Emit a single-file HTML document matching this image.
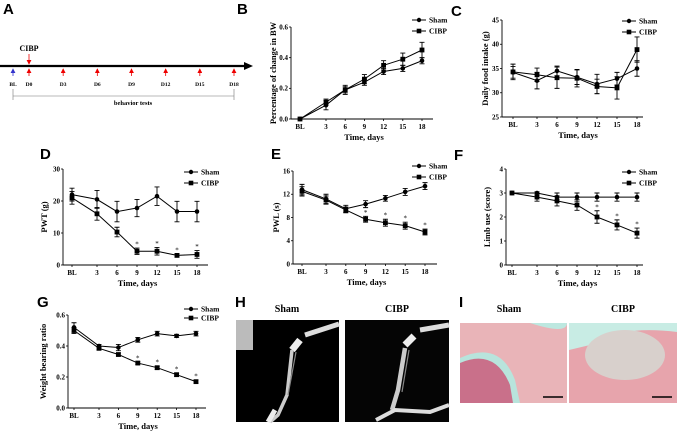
<!DOCTYPE html>
<html><head><meta charset="utf-8">
<style>
html,body{margin:0;padding:0;background:#fff;}
svg{display:block;font-family:"Liberation Serif",serif;}
.lt{font-family:"Liberation Sans",sans-serif;font-weight:bold;font-size:15px;}
.tk{font-size:7px;font-weight:bold;}
.at{font-size:8.5px;font-weight:bold;}
.lg{font-size:7.5px;font-weight:bold;}
</style></head>
<body>
<svg id="fig" width="677" height="433" viewBox="0 0 677 433" xmlns="http://www.w3.org/2000/svg">
<defs>
<marker id="ah" markerWidth="6" markerHeight="6" refX="5" refY="3" orient="auto"><path d="M0,0 L6,3 L0,6 z" fill="#e00"/></marker>
<marker id="ahb" markerWidth="6" markerHeight="6" refX="5" refY="3" orient="auto"><path d="M0,0 L6,3 L0,6 z" fill="#33c"/></marker>
</defs>
<text class="lt" x="3" y="14">A</text>
<text class="lt" x="237" y="14">B</text>
<text class="lt" x="451" y="16">C</text>
<text class="lt" x="40" y="159">D</text>
<text class="lt" x="271" y="159">E</text>
<text class="lt" x="454" y="160">F</text>
<text class="lt" x="37" y="307">G</text>
<text class="lt" x="235" y="307">H</text>
<text class="lt" x="459" y="307">I</text>

<g>
<line x1="0" y1="66" x2="246" y2="66" stroke="#000" stroke-width="2.2"/>
<path d="M244,62 L253,66 L244,70 z" fill="#000"/>
<text x="29" y="51" text-anchor="middle" style="font-size:8px;font-weight:bold">CIBP</text>
<line x1="29" y1="54" x2="29" y2="64" stroke="#e00" stroke-width="0.8" marker-end="url(#ah)"/>
<line x1="13" y1="76" x2="13" y2="69" stroke="#33c" stroke-width="0.8" marker-end="url(#ahb)"/>
<text x="13" y="86" text-anchor="middle" style="font-size:5.5px;font-weight:bold">BL</text>
<g id="tlArrows"></g>
<line x1="13" y1="96" x2="234" y2="96" stroke="#777" stroke-width="0.6"/>
<line x1="13" y1="89" x2="13" y2="100" stroke="#777" stroke-width="0.6"/>
<line x1="234" y1="89" x2="234" y2="100" stroke="#777" stroke-width="0.6"/>
<text x="133" y="105" text-anchor="middle" style="font-size:6.5px;font-weight:bold">behavior tests</text>
</g>

<g id="charts"></g>

<text x="287" y="312" text-anchor="middle" style="font-size:10px;font-weight:bold">Sham</text>
<text x="397" y="312" text-anchor="middle" style="font-size:10px;font-weight:bold">CIBP</text>
<g>
<rect x="236" y="320" width="103" height="102" fill="#000"/>
<rect x="236" y="320" width="17" height="30" fill="#bbb"/>
<path d="M305,335 L339,324" stroke="#ddd" stroke-width="5" fill="none"/>
<path d="M300,340 L292,350" stroke="#eee" stroke-width="7" fill="none"/>
<path d="M292,350 L287,395 L278,415 L270,422" stroke="#ccc" stroke-width="3.5" fill="none"/>
<path d="M296,352 L288,395" stroke="#888" stroke-width="1.2" fill="none"/>
<path d="M275,410 L268,422" stroke="#eee" stroke-width="5" fill="none"/>
</g>
<g>
<rect x="345" y="320" width="104" height="102" fill="#050505"/>
<path d="M420,330 L449,325" stroke="#ddd" stroke-width="5" fill="none"/>
<path d="M414,336 L405,345" stroke="#eee" stroke-width="7" fill="none"/>
<path d="M405,348 L398,390 L392,410" stroke="#ccc" stroke-width="4.5" fill="none"/>
<path d="M409,350 L402,392" stroke="#888" stroke-width="1.2" fill="none"/>
<path d="M376,420 L395,410 L430,412 L449,405" stroke="#ddd" stroke-width="4" fill="none"/>
</g>

<text x="509" y="312" text-anchor="middle" style="font-size:10px;font-weight:bold">Sham</text>
<text x="623" y="312" text-anchor="middle" style="font-size:10px;font-weight:bold">CIBP</text>
<g>
<rect x="460" y="323" width="107" height="80" fill="#e9b4b8"/>
<path d="M530,323 Q567,335 567,323 z" fill="#bde8e0"/>
<path d="M460,358 Q500,340 515,380 L520,403 L460,403 z" fill="#b8e4dc"/>
<path d="M460,363 Q495,348 510,385 L513,403 L460,403 z" fill="#c9708a"/>
<line x1="543" y1="397" x2="563" y2="397" stroke="#000" stroke-width="1.5"/>
</g>
<g>
<rect x="569" y="323" width="108" height="80" fill="#e7a4ac"/>
<path d="M569,323 L677,323 L677,332 Q620,325 590,345 L569,350 z" fill="#c8ece4"/>
<ellipse cx="625" cy="355" rx="40" ry="25" fill="#d8d0cc"/>
<line x1="652" y1="397" x2="672" y2="397" stroke="#000" stroke-width="1.5"/>
</g>
</svg>
<script>
const tlDays = ["D0","D3","D6","D9","D12","D15","D18"];
const categories = ["BL","3","6","9","12","15","18"];

const bSham = [0, 0.09, 0.19, 0.24, 0.31, 0.33, 0.38];
const bShamErr = [0, 0.03, 0.02, 0.02, 0.02, 0.02, 0.02];
const bCibp = [0, 0.11, 0.19, 0.26, 0.35, 0.39, 0.45];
const bCibpErr = [0, 0.02, 0.03, 0.03, 0.03, 0.04, 0.05];
const bTicks = [0, 0.2, 0.4, 0.6];
const bTickLabels = ["0.0","0.2","0.4","0.6"];

const cSham = [34.2, 32.5, 34.5, 33.2, 31.8, 32.9, 35.0];
const cShamErr = [1.2, 1.7, 1.0, 1.5, 2.0, 1.3, 1.6];
const cCibp = [34.3, 33.7, 33.1, 33.0, 31.3, 31.0, 38.9];
const cCibpErr = [1.6, 1.4, 2.2, 1.8, 1.5, 2.3, 2.6];
const cTicks = [25, 30, 35, 40, 45];
const cTickLabels = ["25","30","35","40","45"];

const dSham = [22.0, 20.5, 16.7, 17.8, 21.5, 16.7, 16.7];
const dShamErr = [2.0, 2.8, 3.2, 2.7, 2.9, 3.2, 3.2];
const dCibp = [21.0, 16.0, 10.3, 4.3, 4.3, 3.0, 3.3];
const dCibpErr = [2.0, 2.0, 1.5, 1.0, 1.2, 0.5, 1.2];
const dTicks = [0, 10, 20, 30];
const dTickLabels = ["0","10","20","30"];
const dStars = [3,4,5,6];

const eSham = [12.8, 11.2, 9.5, 10.3, 11.3, 12.4, 13.4];
const eShamErr = [0.9, 0.8, 0.6, 0.6, 0.5, 0.6, 0.6];
const eCibp = [12.5, 11.0, 9.3, 7.7, 7.1, 6.6, 5.5];
const eCibpErr = [0.8, 0.7, 0.5, 0.5, 0.6, 0.6, 0.5];
const eTicks = [0, 4, 8, 12, 16];
const eTickLabels = ["0","4","8","12","16"];
const eStars = [3,4,5,6];

const fSham = [3, 3, 2.83, 2.83, 2.83, 2.83, 2.83];
const fShamErr = [0, 0.05, 0.17, 0.17, 0.17, 0.17, 0.17];
const fCibp = [3, 2.83, 2.67, 2.5, 2.0, 1.67, 1.33];
const fCibpErr = [0, 0.17, 0.21, 0.22, 0.26, 0.21, 0.21];
const fTicks = [0, 1, 2, 3, 4];
const fTickLabels = ["0","1","2","3","4"];
const fStars = [4,5,6];

const gSham = [0.52, 0.40, 0.39, 0.44, 0.48, 0.465, 0.48];
const gShamErr = [0.03, 0.01, 0.02, 0.015, 0.015, 0.01, 0.015];
const gCibp = [0.50, 0.385, 0.345, 0.29, 0.26, 0.215, 0.17];
const gCibpErr = [0.02, 0.01, 0.01, 0.008, 0.01, 0.01, 0.01];
const gTicks = [0, 0.2, 0.4, 0.6];
const gTickLabels = ["0.0","0.2","0.4","0.6"];
const gStars = [3,4,5,6];

const NS = "http://www.w3.org/2000/svg";
function mk(tag, attrs, parent){const e=document.createElementNS(NS,tag);for(const k in attrs)e.setAttribute(k,attrs[k]);parent.appendChild(e);return e;}

const tl = document.getElementById('tlArrows');
tlDays.forEach((d,i)=>{
  const x = 29 + i*(234-29)/6;
  const ar = mk('line',{x1:x,y1:76,x2:x,y2:69,stroke:'#e00','stroke-width':0.8,'marker-end':'url(#ah)'},tl);
  
  
  const t = mk('text',{x:x,y:86,'text-anchor':'middle',style:'font-size:5.5px;font-weight:bold'},tl);
  t.textContent = d;
  
  
});

const charts = document.getElementById('charts');
function chart(cfg){
  const g = mk('g',{},charts);
  
  
  const ymin = cfg.ticks[0], ymax = cfg.ticks[cfg.ticks.length-1];
  const ys = v => cfg.yBot - (v-ymin)/(ymax-ymin)*(cfg.yBot-cfg.yTop);
  const xs = i => i===0 ? cfg.xBL : cfg.x3 + (i-1)*(cfg.x18-cfg.x3)/5;
  const ya = mk('line',{x1:cfg.ax,y1:cfg.yTop,x2:cfg.ax,y2:cfg.yBot,stroke:'#000','stroke-width':0.9},g);
  
  
  const xa = mk('line',{x1:cfg.ax,y1:cfg.yBot,x2:cfg.xEnd,y2:cfg.yBot,stroke:'#000','stroke-width':0.9},g);
  
  
  cfg.ticks.forEach((t,i)=>{
    const y = ys(t);
    mk('line',{x1:cfg.ax-2,y1:y,x2:cfg.ax,y2:y,stroke:'#000','stroke-width':0.8},g);
    const tx = mk('text',{x:cfg.ax-3,y:y+2.4,'text-anchor':'end',class:'tk'},g);
    tx.textContent = cfg.tickLabels[i];
    
    
  });
  categories.forEach((c,i)=>{
    const x = xs(i);
    mk('line',{x1:x,y1:cfg.yBot,x2:x,y2:cfg.yBot+2,stroke:'#000','stroke-width':0.8},g);
    const tx = mk('text',{x:x,y:cfg.yBot+10,'text-anchor':'middle',class:'tk'},g);
    tx.textContent = c;
    
    
  });
  const xt = mk('text',{x:(cfg.xBL+cfg.x18)/2+3,y:cfg.yBot+21,'text-anchor':'middle',class:'at'},g);
  xt.textContent = 'Time, days';
  
  
  const cy = (cfg.yTop+cfg.yBot)/2;
  const yt = mk('text',{x:cfg.ytx,y:cy,'text-anchor':'middle',class:'at',transform:`rotate(-90 ${cfg.ytx} ${cy})`},g);
  yt.textContent = cfg.ytitle;
  
  
  const series = [[cfg.sham,cfg.shamErr,'circle','sham'],[cfg.cibp,cfg.cibpErr,'square','cibp']];
  series.forEach(([vals,errs,shape,nm])=>{
    const pts = vals.map((v,i)=>xs(i)+','+ys(v)).join(' ');
    const pl = mk('polyline',{points:pts,fill:'none',stroke:'#000','stroke-width':1},g);
    
    
    vals.forEach((v,i)=>{
      const x = xs(i), y = ys(v), e = errs[i];
      if(e>0){
        const y1 = ys(v+e), y2 = ys(v-e);
        mk('path',{d:`M${x},${y1}V${y2}M${x-2.5},${y1}H${x+2.5}M${x-2.5},${y2}H${x+2.5}`,stroke:'#000','stroke-width':0.9,fill:'none'},g);
      }
      let m;
      if(shape==='circle') m = mk('circle',{cx:x,cy:y,r:2.3,fill:'#000'},g);
      else m = mk('rect',{x:x-2.4,y:y-2.4,width:4.8,height:4.8,fill:'#000'},g);
      
      
    });
  });
  (cfg.stars||[]).forEach(i=>{
    const s = mk('text',{x:xs(i),y:ys(cfg.cibp[i]+cfg.cibpErr[i])-1.5,'text-anchor':'middle',style:'font-size:7px'},g);
    s.textContent = '*';
    
    
  });
  const [lx,ly] = cfg.leg;
  const gap = cfg.legGap||11;
  [['Sham','circle'],['CIBP','square']].forEach(([lab,shape],k)=>{
    const y = ly + k*gap;
    mk('line',{x1:lx-8,y1:y,x2:lx+6,y2:y,stroke:'#000','stroke-width':1},g);
    if(shape==='circle') mk('circle',{cx:lx-1,cy:y,r:2.2,fill:'#000'},g);
    else mk('rect',{x:lx-3.3,y:y-2.3,width:4.6,height:4.6,fill:'#000'},g);
    const t = mk('text',{x:lx+9,y:y+2.6,class:'lg'},g);
    t.textContent = lab;
    
    
  });
}

chart({name:'chart-b-body-weight',ax:291,yTop:27,yBot:119,ticks:bTicks,tickLabels:bTickLabels,xBL:300,x3:326,x18:422,xEnd:433,ytx:276,ytitle:'Percentage of change in BW',sham:bSham,shamErr:bShamErr,cibp:bCibp,cibpErr:bCibpErr,leg:[420,20]});
chart({name:'chart-c-food-intake',ax:502,yTop:20,yBot:117,ticks:cTicks,tickLabels:cTickLabels,xBL:513,x3:537,x18:637,xEnd:643,ytx:488,ytitle:'Daily food intake (g)',sham:cSham,shamErr:cShamErr,cibp:cCibp,cibpErr:cCibpErr,leg:[630,21]});
chart({name:'chart-d-pwt',ax:63,yTop:169,yBot:265,ticks:dTicks,tickLabels:dTickLabels,xBL:72,x3:97,x18:197,xEnd:208,ytx:47,ytitle:'PWT (g)',sham:dSham,shamErr:dShamErr,cibp:dCibp,cibpErr:dCibpErr,stars:dStars,leg:[192,172]});
chart({name:'chart-e-pwl',ax:293,yTop:171,yBot:264,ticks:eTicks,tickLabels:eTickLabels,xBL:302,x3:326,x18:425,xEnd:437,ytx:279,ytitle:'PWL (s)',sham:eSham,shamErr:eShamErr,cibp:eCibp,cibpErr:eCibpErr,stars:eStars,leg:[420,166]});
chart({name:'chart-f-limb-use',ax:506,yTop:169,yBot:265,ticks:fTicks,tickLabels:fTickLabels,xBL:512,x3:537,x18:637,xEnd:643,ytx:490,ytitle:'Limb use (score)',sham:fSham,shamErr:fShamErr,cibp:fCibp,cibpErr:fCibpErr,stars:fStars,leg:[630,172]});
chart({name:'chart-g-weight-bearing',ax:68,yTop:315,yBot:408,ticks:gTicks,tickLabels:gTickLabels,xBL:74,x3:99,x18:196,xEnd:206,ytx:46,ytitle:'Weight bearing ratio',sham:gSham,shamErr:gShamErr,cibp:gCibp,cibpErr:gCibpErr,stars:gStars,leg:[192,309],legGap:9});
</script>
</body></html>
